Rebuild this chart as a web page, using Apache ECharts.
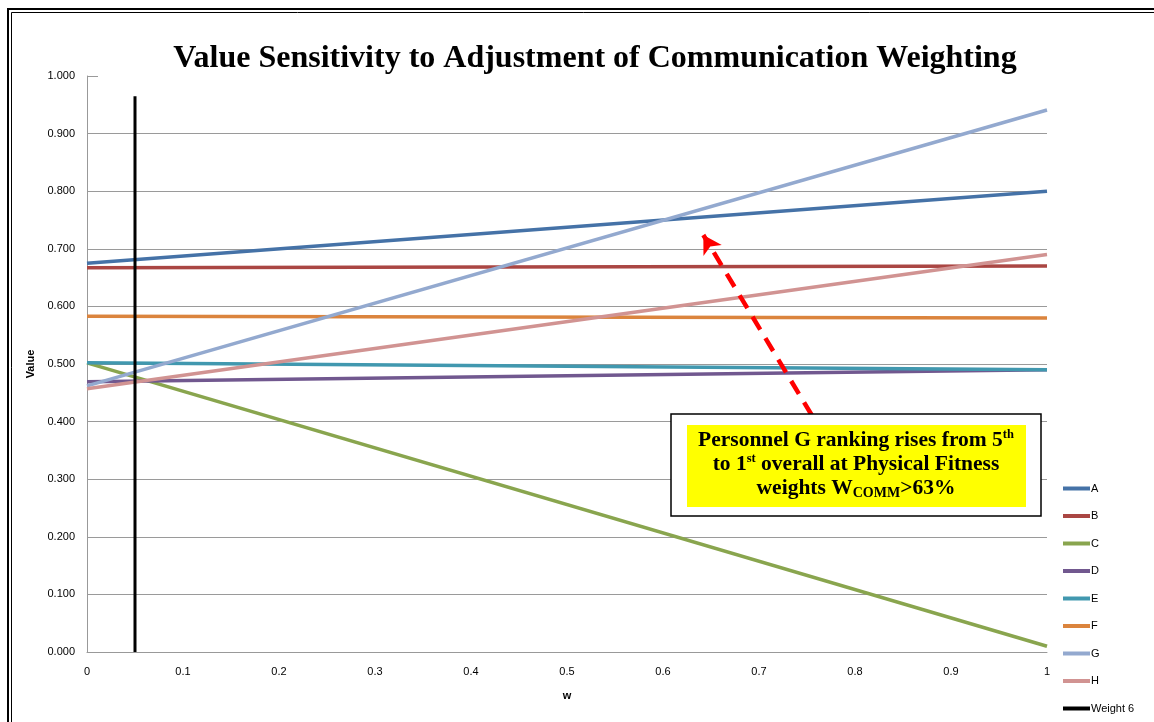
<!DOCTYPE html>
<html>
<head>
<meta charset="utf-8">
<script src="https://cdn.jsdelivr.net/npm/echarts@6/dist/echarts.min.js"></script>
<style>html,body{margin:0;padding:0;background:#fff;}#c{width:1154px;height:722px;}</style>
</head>
<body>
<div id="c"></div>
<script>
// ---- data ----
var wValues = [0, 1];
var seriesNames = ['A', 'B', 'C', 'D', 'E', 'F', 'G', 'H'];
var valuesA = [0.675, 0.800];
var valuesB = [0.667, 0.670];
var valuesC = [0.502, 0.010];
var valuesD = [0.469, 0.490];
var valuesE = [0.502, 0.490];
var valuesF = [0.583, 0.580];
var valuesG = [0.462, 0.941];
var valuesH = [0.457, 0.690];
var weightX = [0.05, 0.05];
var weightY = [0, 0.965];
var arrowFrom = [0.755, 0.411];
var arrowTo = [0.642, 0.724];

var colors = ['#4572A7', '#AA4643', '#89A54E', '#71588F', '#4198AF', '#DB843D', '#93A9CF', '#D19392'];
var allValues = [valuesA, valuesB, valuesC, valuesD, valuesE, valuesF, valuesG, valuesH];

function pairs(xs, ys) { return xs.map(function (x, i) { return [x, ys[i]]; }); }

var series = seriesNames.map(function (n, i) {
  var s = {
    name: n, type: 'line', data: pairs(wValues, allValues[i]),
    symbol: 'none', lineStyle: { width: 3.5, color: colors[i] }, itemStyle: { color: colors[i] },
    z: 3
  };
  if (n === 'G') {
    s.markLine = {
      silent: true, symbol: ['none', 'arrow'], symbolSize: [16, 18],
      label: { show: false },
      lineStyle: { color: '#FF0000', width: 4.5, type: [15, 10] },
      data: [[{ coord: arrowFrom }, { coord: arrowTo }]]
    };
  }
  return s;
});
series.push({
  name: 'Weight 6', type: 'line', data: pairs(weightX, weightY), symbol: 'none',
  lineStyle: { width: 3, color: '#000' }, itemStyle: { color: '#000' }, z: 4
});

var legendData = seriesNames.concat(['Weight 6']).map(function (n) { return { name: n, icon: 'rect' }; });

var chart = echarts.init(document.getElementById('c'));
chart.setOption({
  animation: false,
  backgroundColor: '#fff',
  title: {
    text: 'Value Sensitivity to Adjustment of Communication Weighting',
    left: 590, top: 38, textAlign: 'center',
    textStyle: { fontFamily: '"Liberation Serif", "Times New Roman", serif', fontWeight: 'bold', fontSize: 32, color: '#000' }
  },
  grid: { left: 87, right: 107, top: 76, bottom: 70 },
  legend: {
    orient: 'vertical', left: 1058, top: 478,
    itemWidth: 27, itemHeight: 4, itemGap: 16.5,
    textStyle: { fontFamily: 'Liberation Sans', fontSize: 11, color: '#000', padding: [0, 0, 0, -4] },
    data: legendData
  },
  xAxis: {
    type: 'value', min: 0, max: 1, interval: 0.1,
    name: 'w', nameLocation: 'middle', nameGap: 38,
    nameTextStyle: { fontFamily: 'Liberation Sans', fontWeight: 'bold', fontSize: 11, color: '#000' },
    axisLine: { show: true, lineStyle: { color: '#999', width: 1 } },
    axisTick: { show: false },
    splitLine: { show: false },
    axisLabel: { fontFamily: 'Liberation Sans', fontSize: 11, color: '#000', margin: 14,
      formatter: function (v) { return String(+v.toFixed(1)); } }
  },
  yAxis: {
    type: 'value', min: 0, max: 1, interval: 0.1,
    name: 'Value', nameLocation: 'middle', nameGap: 46,
    nameTextStyle: { fontFamily: 'Liberation Sans', fontWeight: 'bold', fontSize: 11, color: '#000' },
    axisLine: { show: true, lineStyle: { color: '#999', width: 1 } },
    axisTick: { show: false },
    splitLine: { show: true, lineStyle: { color: '#9a9a9a', width: 1 } },
    axisLabel: { fontFamily: 'Liberation Sans', fontSize: 11, color: '#000', margin: 12,
      formatter: function (v) { return v.toFixed(3); } }
  },
  graphic: [
    { type: 'rect', silent: true, z: 100, shape: { x: 8, y: 9, width: 1170, height: 740 },
      style: { fill: 'none', stroke: '#000', lineWidth: 2 } },
    { type: 'rect', silent: true, z: 100, shape: { x: 11.5, y: 12.5, width: 1170, height: 740 },
      style: { fill: 'none', stroke: '#000', lineWidth: 1 } },
    { type: 'rect', silent: true, z: 1, shape: { x: 98, y: 72, width: 960, height: 8 },
      style: { fill: '#fff' } },
    { type: 'rect', silent: true, z: 50, shape: { x: 671, y: 414, width: 370, height: 102 },
      style: { fill: '#fff', stroke: '#000', lineWidth: 1.5 } },
    { type: 'rect', silent: true, z: 51, shape: { x: 687, y: 425, width: 339, height: 82 },
      style: { fill: '#FFFF00' } },
    { type: 'text', silent: true, z: 52, x: 856, y: 464,
      style: {
        text: 'Personnel G ranking rises from 5{sup|th}\nto 1{sup|st} overall at Physical Fitness\nweights W{sub|COMM}>63%',
        align: 'center', verticalAlign: 'middle',
        fontFamily: '"Liberation Serif", "Times New Roman", serif', fontWeight: 'bold', fontSize: 21.5,
        fill: '#000', lineHeight: 24,
        rich: {
          sup: { fontSize: 12.5, fontWeight: 'bold', fontFamily: '"Liberation Serif", serif', verticalAlign: 'top', lineHeight: 24, padding: [0, 0, 10, 0] },
          sub: { fontSize: 14, fontWeight: 'bold', fontFamily: '"Liberation Serif", serif', verticalAlign: 'bottom', lineHeight: 24, padding: [6, 0, 0, 0] }
        }
      } }
  ],
  series: series
});
</script>
</body>
</html>
